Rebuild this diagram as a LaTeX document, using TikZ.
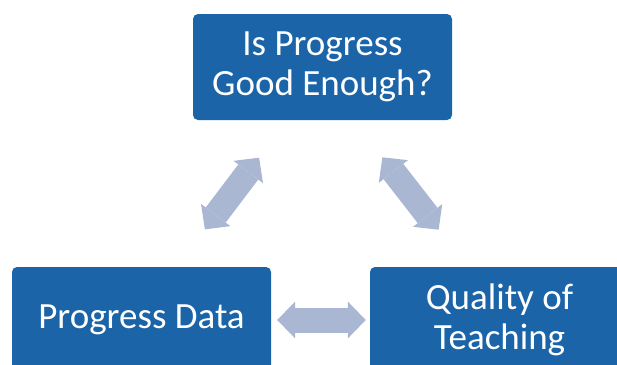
\documentclass[tikz,border=0pt]{standalone}
\usepackage{fontspec}
\setmainfont{Carlito}
\usetikzlibrary{arrows.meta}
\definecolor{boxblue}{RGB}{27,100,168}
\definecolor{arrowgray}{RGB}{170,183,211}
\tikzset{
  stagebox/.style={rectangle, rounded corners=5pt, fill=boxblue, text=white,
    minimum width=259pt, minimum height=106pt, align=center,
    font=\fontsize{37}{40}\selectfont, inner sep=0pt},
  linkarrow/.style={draw=arrowgray, line width=25pt,
    {Triangle[length=18pt,width=37pt,line width=0pt]}-{Triangle[length=18pt,width=37pt,line width=0pt]}}
}
\begin{document}
\begin{tikzpicture}[x=1pt,y=1pt]
\useasboundingbox (0,0) rectangle (617,-364);
\node [stagebox] (top) at (322.5,-67) {Is Progress\\Good Enough?};
\node [stagebox] (pd) at (141.5,-320) {Progress Data};
\node [stagebox] (qt) at (499.5,-320) {Quality of\\Teaching};
\draw [linkarrow, shorten <=6pt, shorten >=4pt] (pd.east) -- (qt.west);
\draw [linkarrow, shorten <=47pt, shorten >=47pt] ([xshift=35pt]pd.north) -- ([xshift=-35pt]top.south);
\draw [linkarrow, shorten <=47pt, shorten >=47pt] ([xshift=31pt]top.south) -- ([xshift=-32pt]qt.north);
\end{tikzpicture}
\end{document}
